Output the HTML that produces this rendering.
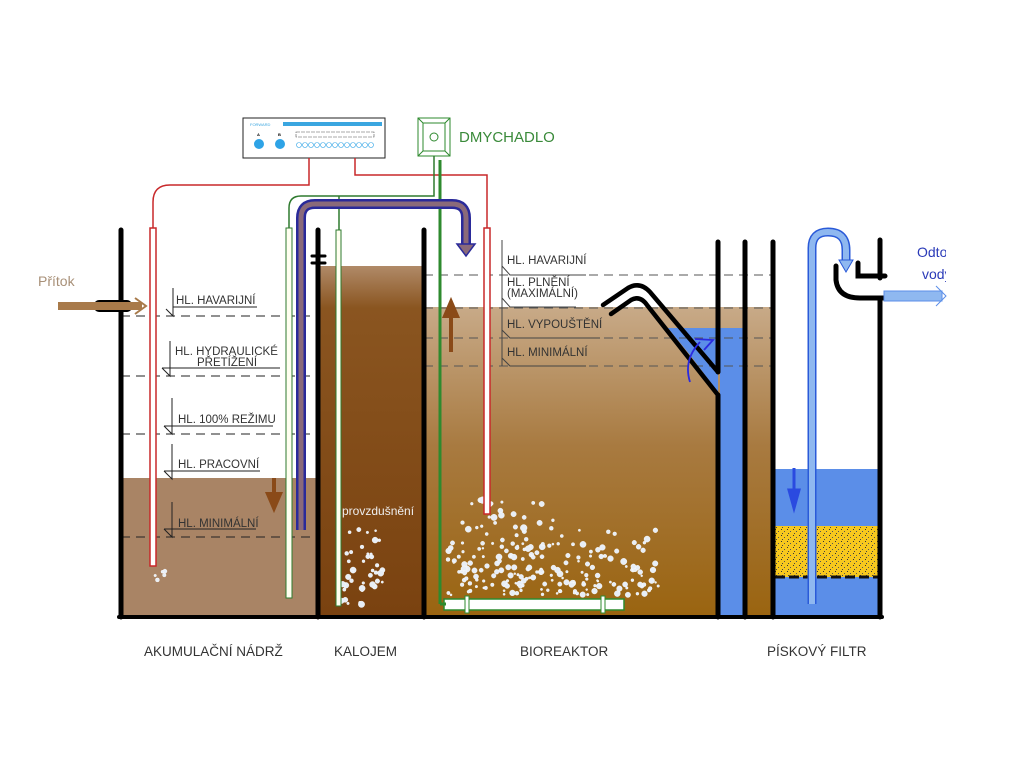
<!DOCTYPE html>
<html><head><meta charset="utf-8"><style>
html,body{margin:0;padding:0;background:#fff}
svg{display:block}
text{font-family:"Liberation Sans",sans-serif}
</style></head><body>
<svg width="1024" height="768" viewBox="0 0 1024 768" xmlns="http://www.w3.org/2000/svg">
<defs>
<linearGradient id="gk" x1="0" y1="0" x2="0" y2="1"><stop offset="0" stop-color="#b08a68"/><stop offset="0.12" stop-color="#8a5520"/><stop offset="1" stop-color="#7a4210"/></linearGradient>
<linearGradient id="gb" x1="0" y1="0" x2="0" y2="1"><stop offset="0" stop-color="#c8aa88"/><stop offset="0.45" stop-color="#a87a40"/><stop offset="1" stop-color="#9a6410"/></linearGradient>
<pattern id="sand" width="6" height="6" patternUnits="userSpaceOnUse"><rect width="6" height="6" fill="#f7c81e"/><rect x="1" y="1" width="1" height="1" fill="#333"/><rect x="4" y="3" width="1" height="1" fill="#555"/><rect x="2" y="5" width="1" height="1" fill="#444"/></pattern>
<clipPath id="cl"><rect x="0" y="0" width="946" height="768"/></clipPath>
</defs>

<rect x="121" y="478" width="197" height="139" fill="#a98465"/>
<rect x="320" y="266" width="104" height="351" fill="url(#gk)"/>
<rect x="424" y="307" width="349" height="310" fill="url(#gb)"/>
<rect x="720" y="328" width="25" height="289" fill="#5b8ee8"/>
<polygon points="668,328 718,328 718,392 690,355" fill="#5b8ee8"/>
<rect x="775" y="469" width="105" height="148" fill="#5b8ee8"/>
<rect x="775" y="526" width="105" height="51" fill="url(#sand)"/>
<line x1="775" y1="577" x2="880" y2="577" stroke="#111" stroke-width="3" stroke-dasharray="10,4"/>

<g stroke="#222" stroke-width="1" fill="none">
<g stroke-dasharray="9,6">
<line x1="121" y1="316" x2="318" y2="316"/><line x1="121" y1="376" x2="318" y2="376"/>
<line x1="121" y1="434" x2="318" y2="434"/><line x1="121" y1="537" x2="318" y2="537"/>
</g>
<path d="M173,288 V316 L166,309 M173,307 H257"/>
<path d="M170,341 V376 L162,368 M162,368 H280"/>
<path d="M172,398 V434 L164,426 M164,426 H273"/>
<path d="M172,444 V479 L164,471 M164,471 H260"/>
<path d="M172,502 V537 L164,529 M164,529 H256"/>
</g>
<g font-size="11.5" fill="#333">
<text x="176" y="304">HL. HAVARIJNÍ</text>
<text x="175" y="355">HL. HYDRAULICKÉ</text>
<text x="197" y="366">PŘETÍŽENÍ</text>
<text x="178" y="423">HL. 100% REŽIMU</text>
<text x="178" y="468">HL. PRACOVNÍ</text>
<text x="178" y="527">HL. MINIMÁLNÍ</text>
</g>
<g stroke="#444" stroke-width="1" fill="none">
<g stroke-dasharray="9,6" stroke="#555">
<line x1="424" y1="275" x2="773" y2="275"/><line x1="424" y1="308" x2="773" y2="308"/>
<line x1="424" y1="338" x2="773" y2="338"/><line x1="424" y1="366" x2="773" y2="366"/>
</g>
<path d="M502,240 V366 M502,266 L510,275 H586 M502,298 L510,307 H576 M502,330 L510,338 H600 M502,358 L510,366 H586"/>
</g>
<g font-size="11.5" fill="#333">
<text x="507" y="264">HL. HAVARIJNÍ</text>
<text x="507" y="286">HL. PLNĚNÍ</text>
<text x="507" y="297">(MAXIMÁLNÍ)</text>
<text x="507" y="328">HL. VYPOUŠTĚNÍ</text>
<text x="507" y="356">HL. MINIMÁLNÍ</text>
</g>

<g id="bub" fill="#e8eef6" stroke="#fff" stroke-width="0.4"></g>

<g stroke="#000" stroke-width="5" fill="none" stroke-linecap="round">
<line x1="121" y1="230" x2="121" y2="617"/>
<line x1="318" y1="230" x2="318" y2="617"/>
<line x1="424" y1="230" x2="424" y2="617"/>
<line x1="718" y1="242" x2="718" y2="372"/>
<line x1="718" y1="395" x2="718" y2="617"/>
<line x1="745" y1="242" x2="745" y2="617"/>
<line x1="773" y1="242" x2="773" y2="617"/>
<line x1="880" y1="240" x2="880" y2="278"/>
<line x1="880" y1="298" x2="880" y2="617"/>
<line x1="119" y1="617" x2="882" y2="617" stroke-width="4"/>
<path d="M603,305 L628,288 Q640,281 650,292 L718,372" stroke-width="4.5"/>
<path d="M611,314 L631,300 Q640,295 647,305 L718,395" stroke-width="4.5"/>
<path d="M858,263 V276 H885" stroke-width="5"/>
<path d="M836,266 V280 Q838,298 860,298 H885" stroke-width="5"/>
<line x1="312" y1="256" x2="325" y2="256" stroke-width="3"/>
<line x1="312" y1="263" x2="325" y2="263" stroke-width="3"/>
</g>
<rect x="94" y="300" width="38" height="12" rx="5" fill="#000"/>
<line x1="58" y1="306" x2="142" y2="306" stroke="#a87a4a" stroke-width="8"/>
<path d="M135,298 L146,306 L135,314" stroke="#a87a4a" stroke-width="2" fill="none"/>
<text x="38" y="286" font-size="14" fill="#a89078">Přítok</text>

<rect x="884" y="291" width="58" height="10" fill="#8fb8f0" stroke="#5b8ee8"/>
<path d="M936,286 L946,296 L936,306" stroke="#5b8ee8" fill="none"/>
<g clip-path="url(#cl)"><text x="917" y="257" font-size="14" fill="#2a3ab8">Odtok</text><text x="922" y="279" font-size="14" fill="#2a3ab8">vody</text></g>

<rect x="243" y="118" width="142" height="40" fill="#fff" stroke="#222"/>
<rect x="283" y="122" width="99" height="4" fill="#3aa6e0"/>
<text x="250" y="126" font-size="4" fill="#3aa6e0">FORWARD</text>
<circle cx="259" cy="144" r="5" fill="#2ea3e6"/><circle cx="280" cy="144" r="5" fill="#2ea3e6"/>
<text x="257" y="136" font-size="4" font-weight="bold">A</text><text x="278" y="136" font-size="4" font-weight="bold">B</text>
<g fill="none" stroke="#2ea3e6" stroke-width="0.6">
<circle cx="299" cy="145" r="2.5"/><circle cx="305" cy="145" r="2.5"/><circle cx="311" cy="145" r="2.5"/><circle cx="317" cy="145" r="2.5"/><circle cx="323" cy="145" r="2.5"/><circle cx="329" cy="145" r="2.5"/><circle cx="335" cy="145" r="2.5"/><circle cx="341" cy="145" r="2.5"/><circle cx="347" cy="145" r="2.5"/><circle cx="353" cy="145" r="2.5"/><circle cx="359" cy="145" r="2.5"/><circle cx="365" cy="145" r="2.5"/><circle cx="371" cy="145" r="2.5"/></g>
<rect x="296" y="132" width="78" height="5" fill="none" stroke="#555" stroke-width="0.6" stroke-dasharray="4,1"/>
<rect x="418" y="118" width="32" height="38" fill="#fff" stroke="#2e8a2e"/>
<rect x="423" y="123" width="22" height="28" fill="none" stroke="#2e8a2e"/>
<path d="M418,118 L423,123 M450,118 L445,123 M418,156 L423,151 M450,156 L445,151" stroke="#2e8a2e"/>
<circle cx="434" cy="137" r="4" fill="none" stroke="#2e8a2e"/>
<text x="459" y="142" font-size="15" fill="#3a8a3a">DMYCHADLO</text>

<path d="M309,158 V185 H170 Q153,185 153,202 V228" stroke="#c8282a" stroke-width="1.5" fill="none"/>
<path d="M355,158 V175 H487 V228" stroke="#c8282a" stroke-width="1.5" fill="none"/>
<rect x="150" y="228" width="6" height="338" fill="#fff" stroke="#c8282a" stroke-width="1.5"/>
<rect x="484" y="228" width="6" height="286" fill="#fff" stroke="#c8282a" stroke-width="1.5"/>
<path d="M434,156 V196 H301 Q289,196 289,208 V228 M339,196 V230" stroke="#2e7a2e" stroke-width="1.5" fill="none"/>
<rect x="286" y="228" width="6" height="370" fill="#fffff0" stroke="#2e7a2e" stroke-width="1"/>
<rect x="336" y="230" width="5" height="376" fill="#fffff0" stroke="#2e7a2e" stroke-width="1"/>
<line x1="440" y1="160" x2="440" y2="604" stroke="#2e8a2e" stroke-width="3"/>
<rect x="444" y="599" width="180" height="11" fill="#fff" stroke="#2e8a2e" stroke-width="1.5"/>
<line x1="440" y1="604" x2="446" y2="604" stroke="#2e8a2e" stroke-width="3"/>
<rect x="465" y="596" width="4" height="17" fill="#fff" stroke="#2e8a2e"/>
<rect x="601" y="596" width="4" height="17" fill="#fff" stroke="#2e8a2e"/>
<path d="M301,530 V218 Q301,204 315,204 H452 Q466,204 466,218 V246" stroke="#2a2a9a" stroke-width="10" fill="none"/>
<path d="M301,530 V218 Q301,204 315,204 H452 Q466,204 466,218 V246" stroke="#8a6a7a" stroke-width="5" fill="none"/>
<path d="M457,244 L466,256 L475,244 Z" fill="#8a6a7a" stroke="#2a2a9a" stroke-width="1.5"/>
<path d="M812,604 V248 Q812,232 828,232 Q846,232 846,250 V262" stroke="#2a5ad8" stroke-width="9" fill="none"/>
<path d="M812,604 V248 Q812,232 828,232 Q846,232 846,250 V262" stroke="#8fb8f0" stroke-width="6" fill="none"/>
<path d="M839,260 L846,272 L853,260 Z" fill="#8fb8f0" stroke="#2a5ad8"/>
<path d="M274,478 V495 M268,494 L274,508 L280,494 Z" stroke="#8a4a18" stroke-width="4" fill="#8a4a18"/>
<path d="M451,352 V314 M445,316 L451,302 L457,316 Z" stroke="#8a4a18" stroke-width="4" fill="#8a4a18"/>
<path d="M794,468 V492 M789,490 L794,508 L799,490 Z" stroke="#2a4ae0" stroke-width="3" fill="#2a4ae0"/>
<path d="M690,382 Q683,360 700,342 M695,339 L713,340 L704,350" stroke="#2a2ae0" stroke-width="1.8" fill="none"/>

<text x="342" y="515" font-size="12" fill="#eee">provzdušnění</text>
<g font-size="13.5" fill="#333">
<text x="144" y="656">AKUMULAČNÍ NÁDRŽ</text>
<text x="334" y="656">KALOJEM</text>
<text x="520" y="656">BIOREAKTOR</text>
<text x="767" y="656">PÍSKOVÝ FILTR</text>
</g>
</svg>
<script>
(function(){var g=document.getElementById('bub'),s=7,NS='http://www.w3.org/2000/svg';function r(){s=(s*9301+49297)%233280;return s/233280;}
function add(n,x0,x1,y0,y1,rm,taper){for(var i=0;i<n;i++){var y=y0+(y1-y0)*Math.pow(r(),taper);var x=x0+(x1-x0)*r();var rr=1+r()*rm;var c=document.createElementNS(NS,'circle');c.setAttribute('cx',x.toFixed(1));c.setAttribute('cy',y.toFixed(1));c.setAttribute('r',rr.toFixed(1));g.appendChild(c);}}
add(200,448,660,528,595,2.2,0.6);add(25,460,560,500,530,2.5,1);add(40,340,385,528,605,2.2,0.8);add(6,152,166,570,582,1.3,1);
})();
</script>
</body></html>
